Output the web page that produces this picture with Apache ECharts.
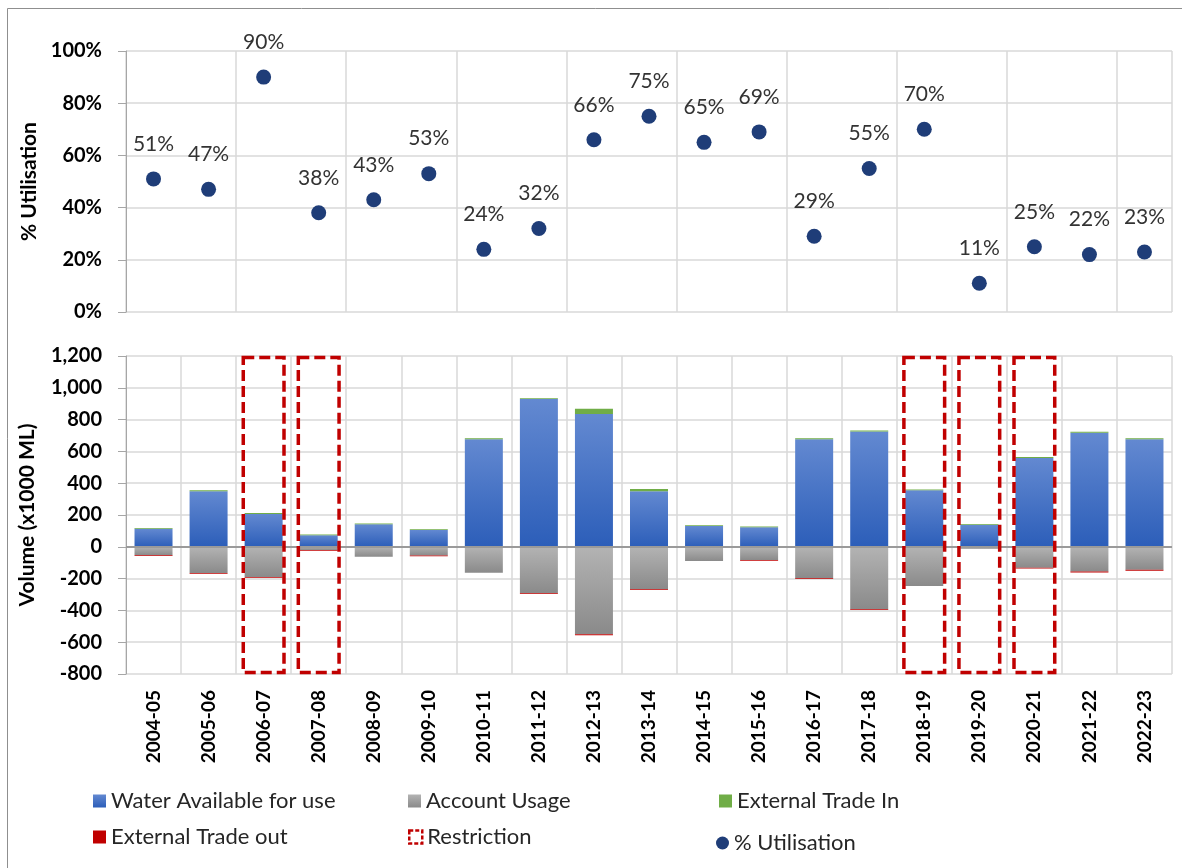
<!DOCTYPE html>
<html>
<head>
<meta charset="utf-8">
<script src="https://cdn.jsdelivr.net/npm/echarts@6/dist/echarts.min.js"></script>
<style>html,body{margin:0;padding:0;background:#fff;}#c{width:1182px;height:868px;}</style>
</head>
<body>
<div id="c"></div>
<script>
const categories = ['2004-05','2005-06','2006-07','2007-08','2008-09','2009-10','2010-11','2011-12','2012-13','2013-14','2014-15','2015-16','2016-17','2017-18','2018-19','2019-20','2020-21','2021-22','2022-23'];
const utilisation = [51,47,90,38,43,53,24,32,66,75,65,69,29,55,70,11,25,22,23];
const waterAvailable = [114,350,207,73,142,106,677,929,835,350,131,123,677,725,356,138,559,718,677];
const tradeIn = [5,5,5,5,5,5,5,6,33,13,5,5,5,7,5,5,5,5,5];
const accountUsage = [-53,-165,-190,-20,-63,-55,-163,-292,-550,-267,-90,-83,-198,-393,-247,-12,-131,-156,-145];
const tradeOut = [-5,-5,-5,-5,0,-5,0,-5,-7,-5,0,-5,-5,-5,0,0,-5,-5,-5];
const restriction = [0,0,1,1,0,0,0,0,0,0,0,0,0,0,1,1,1,0,0];
const volTicks = [-800,1200,200];
const pctTicks = [0,100,20];

const FONT = 'Lato';
const gridColor = '#d9d9d9';
const axisColor = '#a6a6a6';

const chart = echarts.init(document.getElementById('c'));

const blueGrad = {type:'linear',x:0,y:0,x2:0,y2:1,colorStops:[{offset:0,color:'#6389d1'},{offset:1,color:'#2c5eb9'}]};
const greyGrad = {type:'linear',x:0,y:0,x2:0,y2:1,colorStops:[{offset:0,color:'#b3b3b3'},{offset:1,color:'#8a8a8a'}]};

const legendBase = {orient:'horizontal', itemWidth:13, itemHeight:13, itemGap:5, padding:0,
  textStyle:{fontFamily:FONT, fontSize:22, color:'#262626'}, selectedMode:false};

chart.setOption({
  animation:false,
  backgroundColor:'#fff',
  graphic:[{type:'rect', shape:{x:7.5,y:8.5,width:1300,height:1000}, style:{fill:'none', stroke:'#8f8f8f', lineWidth:1}, silent:true}],
  grid:[
    {left:126, top:51, width:1046, height:261},
    {left:126, top:356, width:1046, height:318}
  ],
  xAxis:[
    {gridIndex:0, type:'category', data:categories, boundaryGap:true,
     axisLine:{show:false}, axisTick:{show:false}, axisLabel:{show:false},
     splitLine:{show:true, lineStyle:{color:gridColor, width:1.5}}},
    {gridIndex:1, type:'category', data:categories, boundaryGap:true,
     axisLine:{show:false, onZero:false}, axisTick:{show:false},
     axisLabel:{rotate:90, margin:16, fontFamily:FONT, fontWeight:'bold', fontSize:19, color:'#000', interval:0},
     splitLine:{show:true, lineStyle:{color:gridColor, width:1.5}}}
  ],
  yAxis:[
    {gridIndex:0, type:'value', min:pctTicks[0], max:pctTicks[1], interval:pctTicks[2],
     name:'% Utilisation', nameLocation:'middle', nameGap:86, nameRotate:90, nameMoveOverlap:false,
     nameTextStyle:{fontFamily:FONT, fontWeight:'bold', fontSize:21, color:'#000'},
     axisLine:{show:true, lineStyle:{color:axisColor}}, axisTick:{show:true, inside:false, length:8, lineStyle:{color:axisColor}},
     axisLabel:{margin:24, fontFamily:FONT, fontWeight:'bold', fontSize:20, color:'#000', formatter:v=>v+'%'},
     splitLine:{show:true, lineStyle:{color:gridColor, width:1.5}}},
    {gridIndex:1, type:'value', min:volTicks[0], max:volTicks[1], interval:volTicks[2],
     name:'Volume (x1000 ML)', nameLocation:'middle', nameGap:88, nameRotate:90,
     nameTextStyle:{fontFamily:FONT, fontWeight:'bold', fontSize:21, color:'#000'},
     axisLine:{show:true, lineStyle:{color:axisColor}}, axisTick:{show:true, inside:false, length:8, lineStyle:{color:axisColor}},
     axisLabel:{margin:24, fontFamily:FONT, fontWeight:'bold', fontSize:20, color:'#000', formatter:v=>v.toLocaleString('en-US')},
     splitLine:{show:true, lineStyle:{color:gridColor, width:1.5}}}
  ],
  legend:[
    Object.assign({}, legendBase, {left:93, top:790, data:[{name:'Water Available for use', icon:'rect'}]}),
    Object.assign({}, legendBase, {left:408, top:790, data:[{name:'Account Usage', icon:'rect'}]}),
    Object.assign({}, legendBase, {left:719, top:790, data:[{name:'External Trade In', icon:'rect'}]}),
    Object.assign({}, legendBase, {left:93, top:826, data:[{name:'External Trade out', icon:'rect'}]}),
    Object.assign({}, legendBase, {left:408, top:826, data:[{name:'Restriction', icon:'rect', itemStyle:{color:'#fff', borderColor:'#c00000', borderWidth:2.5, borderType:[4,2]}}]}),
    Object.assign({}, legendBase, {left:716, top:832, itemWidth:13, itemHeight:16, data:[{name:'% Utilisation', icon:'circle'}]})
  ],
  series:[
    {name:'% Utilisation', type:'scatter', xAxisIndex:0, yAxisIndex:0, data:utilisation,
     symbolSize:15, itemStyle:{color:'#1f3d78', opacity:1},
     label:{show:true, position:'top', distance:17, formatter:p=>p.value+'%', fontFamily:FONT, fontSize:21, color:'#333'}},
    {name:'Water Available for use', type:'bar', stack:'v', xAxisIndex:1, yAxisIndex:1, data:waterAvailable, barWidth:38,
     itemStyle:{color:blueGrad}, legendHoverLink:false,
     markLine:{silent:true, symbol:'none', label:{show:false}, lineStyle:{color:'#9a9a9a', type:'solid', width:2}, data:[{yAxis:0}]}},
    {name:'External Trade In', type:'bar', stack:'v', xAxisIndex:1, yAxisIndex:1, data:tradeIn, barWidth:38,
     itemStyle:{color:'#70ad47'}},
    {name:'Account Usage', type:'bar', stack:'v', xAxisIndex:1, yAxisIndex:1, data:accountUsage, barWidth:38,
     itemStyle:{color:greyGrad}},
    {name:'External Trade out', type:'bar', stack:'v', xAxisIndex:1, yAxisIndex:1, data:tradeOut, barWidth:38,
     itemStyle:{color:'#c00000'}},
    {name:'Restriction', type:'custom', xAxisIndex:1, yAxisIndex:1, z:10,
     itemStyle:{color:'#c00000'},
     data:restriction.map((r,i)=>r?[i,volTicks[1],volTicks[0]]:null).filter(d=>d),
     encode:{x:0, y:[1,2]},
     renderItem:function(params, api){
       const top = api.coord([api.value(0), api.value(1)]);
       const bot = api.coord([api.value(0), api.value(2)]);
       const w = api.size([1,0])[0]*0.74;
       return {type:'rect', shape:{x:top[0]-w/2, y:top[1]+1.5, width:w, height:bot[1]-top[1]-3},
         style:{fill:'none', stroke:'#c00000', lineWidth:3.5, lineDash:[11,5]}};
     }}
  ]
});
</script>
</body>
</html>
